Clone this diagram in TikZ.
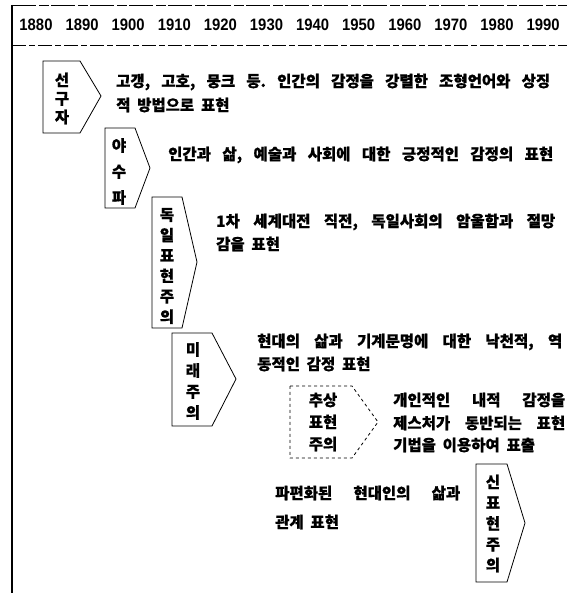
\documentclass[tikz,border=0pt]{standalone}
\usepackage{fontspec}
\newfontfamily\kr{Noto Sans CJK KR}[WordSpace=1.9, BoldFeatures={WordSpace=1.9, FakeBold=0.6}]
\newfontfamily\yrfont{Liberation Sans}
\frenchspacing
\begin{document}
\begin{tikzpicture}[x=1pt,y=-1pt,
  yearlbl/.style={font=\yrfont\bfseries\fontsize{16.5}{16.5}\selectfont, inner sep=0, xscale=0.9},
  txt/.style={font=\kr\bfseries\fontsize{15.5}{15.5}\selectfont, inner sep=0, anchor=west},
  vlbl/.style={font=\kr\bfseries\fontsize{15.5}{#1}\selectfont, inner sep=0, align=center},
  arrowbox/.style={draw=black, line width=0.8pt},
  frame/.style={draw=black, line width=0.9pt}]
\useasboundingbox (0,0) rectangle (567,593);
% frame lines
\draw[frame, dash pattern=on 24pt off 3pt on 10pt off 2pt] (12,5) -- (567,5);
\draw[frame, dash pattern=on 14pt off 3pt on 6pt off 3pt] (12,45) -- (567,45);
\draw[black, line width=1.3pt] (12,5) -- (12,593);
% years
\foreach \yv [count=\i from 0] in {1880,1890,...,1990}
  \node[yearlbl] (y\yv) at ({36+46.1*\i},25) {\yv};
% arrow boxes
\draw[arrowbox] (43,61) -- (80,61) -- (101,96) -- (80,133) -- (43,133) -- cycle;
\node[vlbl=18.5] (b1) at (62,98.5) {선\\구\\자};
\draw[arrowbox] (105,128) -- (135,128) -- (150,168) -- (135,208) -- (105,208) -- cycle;
\node[vlbl=26] (b2) at (119,171.5) {야\\수\\파};
\draw[arrowbox] (152,197) -- (182,197) -- (197,262) -- (182,328) -- (152,328) -- cycle;
\node[vlbl=20.4] (b3) at (167,266) {독\\일\\표\\현\\주\\의};
\draw[arrowbox] (172,333) -- (212,333) -- (236,379) -- (212,426) -- (172,426) -- cycle;
\node[vlbl=21] (b4) at (193,381) {미\\래\\주\\의};
\draw[arrowbox, dashed] (290,386) -- (352,386) -- (378,422) -- (352,458) -- (290,458) -- cycle;
\node[vlbl=22] (b5) at (323,422) {추상\\표현\\주의};
\draw[arrowbox] (476,464) -- (507,464) -- (525,523) -- (507,582) -- (476,582) -- cycle;
\node[vlbl=20.75] (b6) at (493,523.5) {신\\표\\현\\주\\의};
% descriptions
\node[txt] (t1a) at (116,82) {\makebox[434pt][s]{고갱, 고호, 뭉크 등. 인간의 감정을 강렬한 조형언어와 상징}};
\node[txt] (t1b) at (116,105) {적 방법으로 표현};
\node[txt] (t2) at (168,155) {\makebox[385pt][s]{인간과 삶, 예술과 사회에 대한 긍정적인 감정의 표현}};
\node[txt] (t3a) at (216,222) {\makebox[339pt][s]{1차 세계대전 직전, 독일사회의 암울함과 절망}};
\node[txt] (t3b) at (216,244) {감을 표현};
\node[txt] (t4a) at (257,342) {\makebox[305pt][s]{현대의 삶과 기계문명에 대한 낙천적, 역}};
\node[txt] (t4b) at (257,364) {동적인 감정 표현};
\node[txt] (t5a) at (393,400) {\makebox[172pt][s]{개인적인 내적 감정을}};
\node[txt] (t5b) at (393,423) {\makebox[172pt][s]{제스처가 동반되는 표현}};
\node[txt] (t5c) at (393,445) {기법을 이용하여 표출};
\node[txt] (t6a) at (275,493) {\makebox[185pt][s]{파편화된 현대인의 삶과}};
\node[txt] (t6b) at (275,522) {관계 표현};
\end{tikzpicture}
\end{document}
